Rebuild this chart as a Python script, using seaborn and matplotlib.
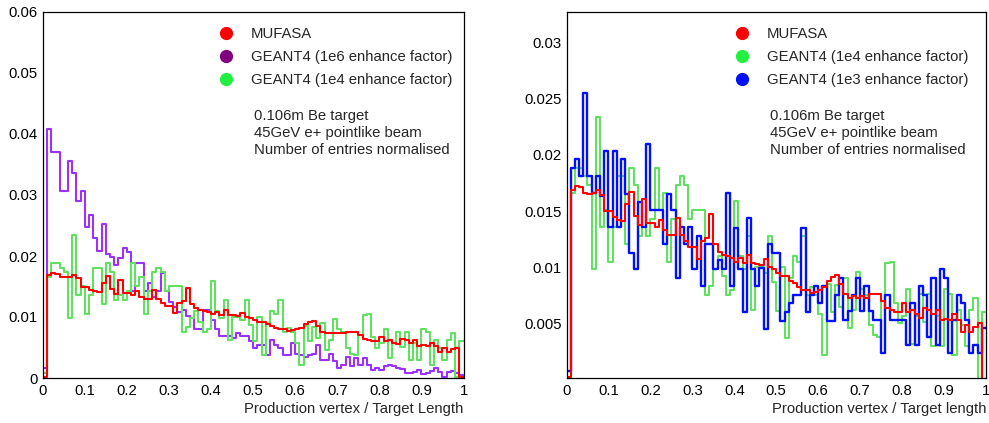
import numpy as np
import pandas as pd
import matplotlib
matplotlib.use("Agg")
import matplotlib.pyplot as plt
from matplotlib.lines import Line2D
from matplotlib.ticker import MultipleLocator
import seaborn as sns

# ---------------- data (100 bins over 0..1) ----------------
n_bins = 100
x_range = (0.0, 1.0)

mufasa = [
    0.0002, 0.0169, 0.0172, 0.0171, 0.0166, 0.0165, 0.0166, 0.0169, 0.0164, 0.0150,
    0.0150, 0.0145, 0.0142, 0.0141, 0.0156, 0.0167, 0.0146, 0.0138, 0.0161, 0.0139,
    0.0139, 0.0136, 0.0142, 0.0133, 0.0129, 0.0129, 0.0144, 0.0129, 0.0123, 0.0118,
    0.0118, 0.0107, 0.0123, 0.0126, 0.0147, 0.0121, 0.0114, 0.0111, 0.0110, 0.0108,
    0.0105, 0.0108, 0.0104, 0.0111, 0.0104, 0.0103, 0.0102, 0.0107, 0.0100, 0.0098,
    0.0095, 0.0092, 0.0092, 0.0088, 0.0086, 0.0082, 0.0080, 0.0080, 0.0077, 0.0078,
    0.0080, 0.0082, 0.0088, 0.0091, 0.0093, 0.0085, 0.0076, 0.0073, 0.0074, 0.0073,
    0.0074, 0.0073, 0.0076, 0.0076, 0.0076, 0.0070, 0.0064, 0.0062, 0.0060, 0.0060,
    0.0068, 0.0060, 0.0062, 0.0058, 0.0055, 0.0064, 0.0062, 0.0058, 0.0062, 0.0053,
    0.0054, 0.0053, 0.0058, 0.0053, 0.0042, 0.0049, 0.0042, 0.0047, 0.0050, 0.0001,
]

geant4_1e6 = [
    0.0016, 0.0408, 0.0371, 0.0371, 0.0307, 0.0307, 0.0355, 0.0336, 0.0290, 0.0306,
    0.0247, 0.0267, 0.0230, 0.0209, 0.0252, 0.0203, 0.0198, 0.0185, 0.0196, 0.0213,
    0.0207, 0.0143, 0.0188, 0.0188, 0.0143, 0.0156, 0.0133, 0.0142, 0.0172, 0.0142,
    0.0125, 0.0117, 0.0109, 0.0111, 0.0102, 0.0098, 0.0081, 0.0081, 0.0111, 0.0111,
    0.0095, 0.0081, 0.0069, 0.0069, 0.0069, 0.0065, 0.0073, 0.0069, 0.0069, 0.0060,
    0.0050, 0.0054, 0.0054, 0.0038, 0.0063, 0.0054, 0.0050, 0.0038, 0.0038, 0.0057,
    0.0040, 0.0038, 0.0035, 0.0038, 0.0039, 0.0054, 0.0030, 0.0030, 0.0039, 0.0028,
    0.0016, 0.0021, 0.0035, 0.0019, 0.0032, 0.0021, 0.0032, 0.0021, 0.0013, 0.0016,
    0.0013, 0.0019, 0.0021, 0.0019, 0.0017, 0.0014, 0.0009, 0.0009, 0.0010, 0.0013,
    0.0007, 0.0008, 0.0012, 0.0016, 0.0010, 0.0002, 0.0010, 0.0012, 0.0009, 0.0005,
]

geant4_1e4 = [
    0.0008, 0.0166, 0.0188, 0.0188, 0.0181, 0.0173, 0.0098, 0.0234, 0.0136, 0.0151,
    0.0105, 0.0136, 0.0181, 0.0181, 0.0121, 0.0188, 0.0173, 0.0128, 0.0136, 0.0128,
    0.0143, 0.0188, 0.0151, 0.0166, 0.0105, 0.0143, 0.0173, 0.0181, 0.0173, 0.0143,
    0.0151, 0.0151, 0.0151, 0.0075, 0.0083, 0.0098, 0.0110, 0.0092, 0.0075, 0.0080,
    0.0159, 0.0110, 0.0098, 0.0128, 0.0062, 0.0100, 0.0100, 0.0095, 0.0128, 0.0087,
    0.0061, 0.0100, 0.0037, 0.0090, 0.0110, 0.0105, 0.0128, 0.0075, 0.0082, 0.0075,
    0.0058, 0.0022, 0.0085, 0.0060, 0.0084, 0.0065, 0.0090, 0.0046, 0.0062, 0.0096,
    0.0081, 0.0075, 0.0049, 0.0040, 0.0038, 0.0070, 0.0104, 0.0105, 0.0068, 0.0050,
    0.0057, 0.0081, 0.0032, 0.0057, 0.0076, 0.0051, 0.0076, 0.0030, 0.0057, 0.0030,
    0.0081, 0.0076, 0.0022, 0.0062, 0.0049, 0.0030, 0.0062, 0.0073, 0.0001, 0.0060,
]

geant4_1e3 = [
    0.0008, 0.0188, 0.0196, 0.0181, 0.0255, 0.0181, 0.0166, 0.0181, 0.0163, 0.0203,
    0.0136, 0.0203, 0.0136, 0.0196, 0.0165, 0.0113, 0.0098, 0.0158, 0.0136, 0.0210,
    0.0151, 0.0151, 0.0151, 0.0121, 0.0165, 0.0151, 0.0090, 0.0136, 0.0121, 0.0136,
    0.0098, 0.0128, 0.0083, 0.0121, 0.0121, 0.0098, 0.0106, 0.0098, 0.0166, 0.0083,
    0.0135, 0.0098, 0.0060, 0.0144, 0.0098, 0.0083, 0.0099, 0.0045, 0.0121, 0.0113,
    0.0113, 0.0052, 0.0060, 0.0068, 0.0075, 0.0075, 0.0135, 0.0060, 0.0075, 0.0083,
    0.0068, 0.0083, 0.0052, 0.0052, 0.0075, 0.0090, 0.0053, 0.0061, 0.0075, 0.0090,
    0.0061, 0.0083, 0.0061, 0.0053, 0.0053, 0.0024, 0.0075, 0.0053, 0.0053, 0.0053,
    0.0053, 0.0031, 0.0068, 0.0031, 0.0083, 0.0075, 0.0038, 0.0090, 0.0031, 0.0098,
    0.0090, 0.0024, 0.0053, 0.0075, 0.0068, 0.0053, 0.0024, 0.0031, 0.0024, 0.0046,
]

lbl_mufasa = "MUFASA"
lbl_1e6 = "GEANT4 (1e6 enhance factor)"
lbl_1e4 = "GEANT4 (1e4 enhance factor)"
lbl_1e3 = "GEANT4 (1e3 enhance factor)"
info_lines = ["0.106m Be target", "45GeV e+ pointlike beam", "Number of entries normalised"]

x_ticks = [0, 0.1, 0.2, 0.3, 0.4, 0.5, 0.6, 0.7, 0.8, 0.9, 1.0]
x_ticklabels = ["0", "0.1", "0.2", "0.3", "0.4", "0.5", "0.6", "0.7", "0.8", "0.9", "1"]
yl_ticks = [0, 0.01, 0.02, 0.03, 0.04, 0.05, 0.06]
yl_ticklabels = ["0", "0.01", "0.02", "0.03", "0.04", "0.05", "0.06"]
yr_ticks = [0.005, 0.01, 0.015, 0.02, 0.025, 0.03]
yr_ticklabels = ["0.005", "0.01", "0.015", "0.02", "0.025", "0.03"]
xlabel_left = "Production vertex / Target Length"
xlabel_right = "Production vertex / Target length"

# ---------------- style ----------------
sns.set_style("white")
plt.rcParams["font.family"] = ["Liberation Sans", "DejaVu Sans"]
FS = 10.7

C_RED = "#ff0000"
C_PURPLE_LINE = "#9b30ff"
C_PURPLE_MK = "#800080"
C_GREEN_LINE = "#62e062"
C_GREEN_MK = "#22f040"
C_BLUE = "#0010ff"

edges = np.linspace(x_range[0], x_range[1], n_bins + 1)
centers = (edges[:-1] + edges[1:]) / 2
df = pd.DataFrame({
    "x": centers,
    "mufasa": mufasa,
    "g1e6": geant4_1e6,
    "g1e4": geant4_1e4,
    "g1e3": geant4_1e3,
})

fig = plt.figure(figsize=(9.89, 4.23), dpi=100)
W, H = 989, 423
def axrect(x0, x1, y0, y1):
    return [x0 / W, (H - y1) / H, (x1 - x0) / W, (y1 - y0) / H]

axL = fig.add_axes(axrect(42.7, 463.5, 12, 378))
axR = fig.add_axes(axrect(566.5, 986, 12, 378))

def hist(ax, col, color, lw):
    sns.histplot(data=df, x="x", weights=col, bins=n_bins, binrange=x_range,
                 element="step", fill=False, color=color, linewidth=lw,
                 ax=ax, legend=False)

hist(axL, "g1e6", C_PURPLE_LINE, 1.5)
hist(axL, "g1e4", C_GREEN_LINE, 1.5)
hist(axL, "mufasa", C_RED, 1.5)

hist(axR, "g1e4", C_GREEN_LINE, 1.5)
hist(axR, "g1e3", C_BLUE, 1.7)
hist(axR, "mufasa", C_RED, 1.5)

def style_axes(ax, yticks, yticklabels, yminor, ylim, xlabel, leg_items, leg_x, txt_x):
    ax.set_xlim(0, 1)
    ax.set_ylim(*ylim)
    ax.set_xticks(x_ticks)
    ax.set_xticklabels(x_ticklabels)
    ax.set_yticks(yticks)
    ax.set_yticklabels(yticklabels)
    ax.xaxis.set_minor_locator(MultipleLocator(0.02))
    ax.yaxis.set_minor_locator(MultipleLocator(yminor))
    ax.tick_params(which="both", direction="in", top=False, right=False,
                   colors="#444444", labelcolor="black", labelsize=FS, width=0.8)
    ax.tick_params(axis="x", which="major", length=8, pad=4.0)
    ax.tick_params(axis="x", which="minor", length=4.5)
    ax.tick_params(axis="y", which="major", length=5.5, pad=3.5)
    ax.tick_params(axis="y", which="minor", length=3)
    for s in ax.spines.values():
        s.set_color("black")
        s.set_linewidth(0.9)
    ax.set_ylabel("")
    ax.set_xlabel(xlabel, fontsize=FS, loc="right", labelpad=3)
    handles = [Line2D([], [], marker="o", linestyle="", markersize=8.5,
                      markerfacecolor=c, markeredgecolor=c) for c, _ in leg_items]
    labels = [l for _, l in leg_items]
    ax.legend(handles, labels, loc="upper left", bbox_to_anchor=(leg_x, 0.958),
              frameon=False, fontsize=FS, handlelength=1.0, handletextpad=1.15,
              borderpad=0, borderaxespad=0, labelspacing=0.6)
    for yfrac, line in zip([0.717, 0.670, 0.624], info_lines):
        ax.text(txt_x, yfrac, line, transform=ax.transAxes, fontsize=FS,
                ha="left", va="center")

style_axes(axL, yl_ticks, yl_ticklabels, 0.002, (0, 0.06), xlabel_left,
           [(C_RED, lbl_mufasa), (C_PURPLE_MK, lbl_1e6), (C_GREEN_MK, lbl_1e4)],
           0.418, 0.502)
style_axes(axR, yr_ticks, yr_ticklabels, 0.001, (0.00015, 0.0327), xlabel_right,
           [(C_RED, lbl_mufasa), (C_GREEN_MK, lbl_1e4), (C_BLUE, lbl_1e3)],
           0.401, 0.485)

fig.savefig("out.png", dpi=100)
